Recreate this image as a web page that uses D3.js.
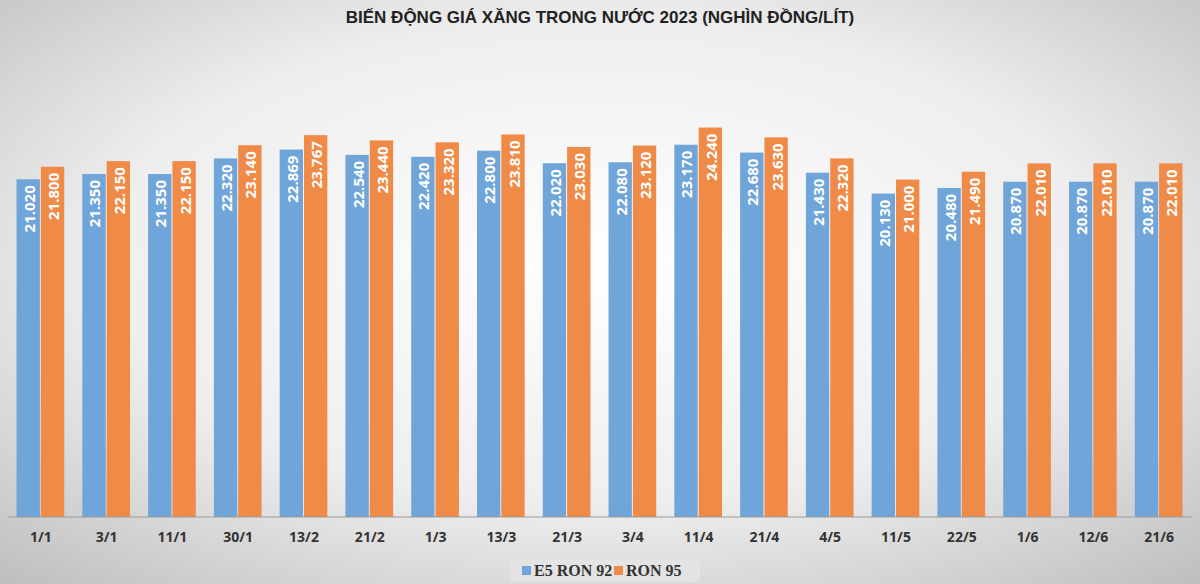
<!DOCTYPE html>
<html><head><meta charset="utf-8">
<script src="https://cdn.jsdelivr.net/npm/d3@7/dist/d3.min.js"></script>
<style>body{margin:0}svg{display:block}</style></head>
<body><div id="chart"></div>
<script>
const categories = ['1/1','3/1','11/1','30/1','13/2','21/2','1/3','13/3','21/3','3/4','11/4','21/4','4/5','11/5','22/5','1/6','12/6','21/6']
const e5 = [21.020,21.350,21.350,22.320,22.869,22.540,22.420,22.800,22.020,22.080,23.170,22.680,21.430,20.130,20.480,20.870,20.870,20.870]
const ron95 = [21.800,22.150,22.150,23.140,23.767,23.440,23.320,23.810,23.030,23.120,24.240,23.630,22.320,21.000,21.490,22.010,22.010,22.010]
const seriesNames = ['E5 RON 92', 'RON 95']
const colors = ['#6fa5d8', '#ef8a47']

const w = 1200, h = 584
const margin = { top: 35, left: 8, right: 8, bottom: 67 }
const svg = d3.select('#chart').append('svg').attr('width', w).attr('height', h)
const grad = svg.append('defs').append('radialGradient').attr('id', 'bg')
  .attr('cx', '50%').attr('cy', '45%').attr('r', '75%')
grad.append('stop').attr('offset', '0%').attr('stop-color', '#ffffff')
grad.append('stop').attr('offset', '55%').attr('stop-color', '#eeeeee')
grad.append('stop').attr('offset', '100%').attr('stop-color', '#bdbdbd')
svg.append('rect').attr('width', w).attr('height', h).attr('fill', 'url(#bg)')

svg.append('text').attr('x', w / 2).attr('y', 23).attr('text-anchor', 'middle')
  .attr('font-family', 'Liberation Sans, Arial').attr('font-weight', 'bold').attr('font-size', 17)
  .attr('fill', '#222').text('BIẾN ĐỘNG GIÁ XĂNG TRONG NƯỚC 2023 (NGHÌN ĐỒNG/LÍT)')

const x = d3.scaleBand().domain(categories).range([margin.left, w - margin.right]).paddingInner(0.26).paddingOuter(0.13)
const xs = d3.scaleBand().domain([0, 1]).range([0, x.bandwidth()])
const y = d3.scaleLinear().domain([0, 30]).range([h - margin.bottom, margin.top])

const rows = categories.map((c, i) => ({ c, vals: [e5[i], ron95[i]] }))
const g = svg.selectAll('.grp').data(rows).enter().append('g')
  .attr('transform', d => `translate(${x(d.c)},0)`)
const bars = g.selectAll('g.bar').data(d => d.vals.map((v, k) => ({ v, k }))).enter().append('g')
bars.append('rect')
  .attr('x', d => xs(d.k)).attr('width', xs.bandwidth() - 1)
  .attr('y', d => y(d.v)).attr('height', d => y(0) - y(d.v))
  .attr('fill', d => colors[d.k])
bars.append('text')
  .attr('transform', d => `translate(${xs(d.k) + xs.bandwidth() / 2 + 6},${y(d.v) + 6}) rotate(-90)`)
  .attr('text-anchor', 'end')
  .attr('font-family', 'Open Sans, sans-serif').attr('font-weight', 'bold').attr('font-size', 15)
  .attr('fill', '#fff')
  .text(d => d3.format('.3f')(d.v))

const ax = svg.append('g').attr('transform', `translate(0,${y(0)})`)
  .call(d3.axisBottom(x).tickSize(0).tickPadding(15))
ax.select('.domain').attr('stroke', '#9a9a9a').attr('d', `M${margin.left},0H${w - margin.right}`)
ax.selectAll('text').attr('font-family', 'Open Sans, sans-serif').attr('font-weight', 'bold')
  .attr('font-size', 14).attr('fill', '#333')

svg.append('rect').attr('x', 510).attr('y', 559).attr('width', 190).attr('height', 23).attr('fill', '#e8e8e8').attr('opacity', 0.6)
const lg = svg.append('g').attr('transform', 'translate(522,571)')
const items = lg.selectAll('g').data(seriesNames).enter().append('g')
  .attr('transform', (d, i) => `translate(${i * 92},0)`)
items.append('rect').attr('x', 0).attr('y', -5).attr('width', 9).attr('height', 9).attr('fill', (d, i) => colors[i])
items.append('text').attr('x', 12).attr('y', 5).attr('font-family', 'Liberation Serif, serif')
  .attr('font-weight', 'bold').attr('font-size', 16).attr('fill', '#333').text(d => d)
</script></body></html>
